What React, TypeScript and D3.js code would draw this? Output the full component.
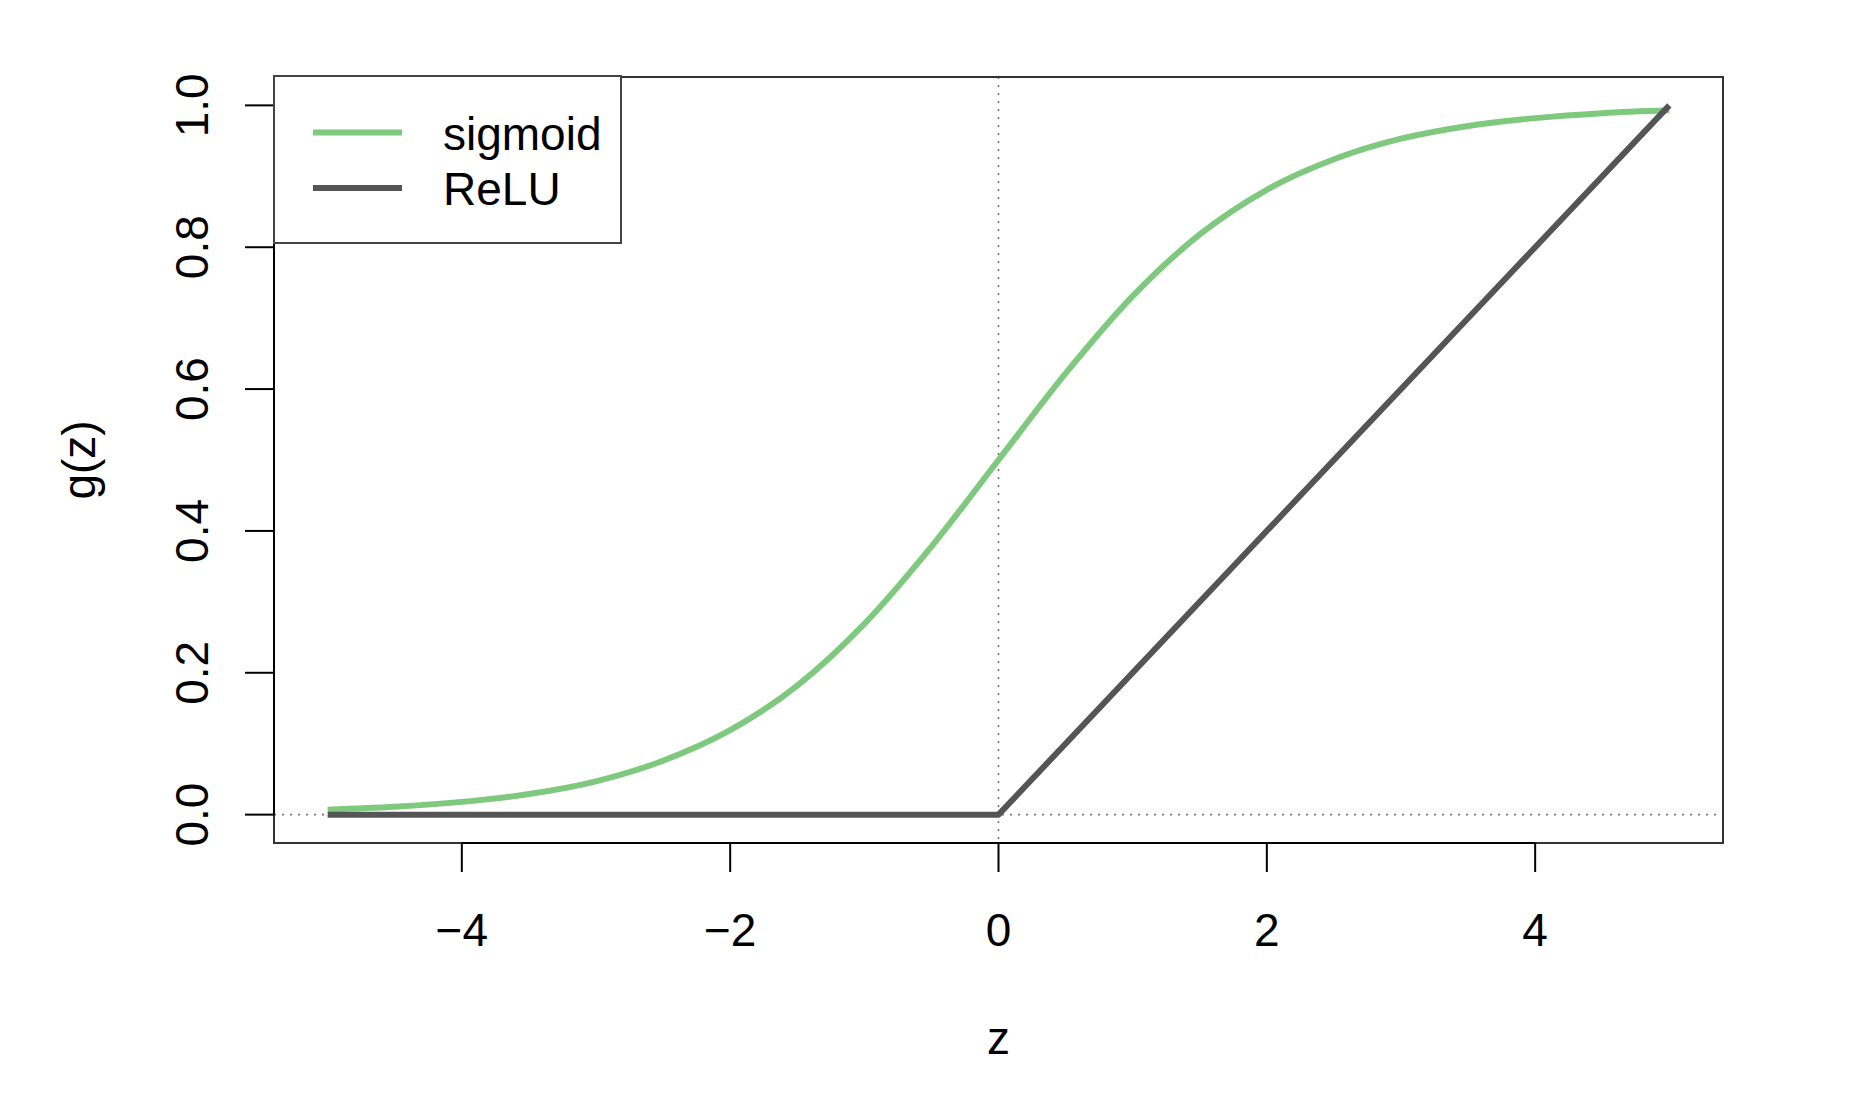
import React from "react";
import * as d3 from "d3";

const zValues = [-5, -4.5, -4, -3.5, -3, -2.5, -2, -1.5, -1, -0.5, 0, 0.5, 1, 1.5, 2, 2.5, 3, 3.5, 4, 4.5, 5];
const sigmoidValues = [0.007, 0.011, 0.018, 0.029, 0.047, 0.076, 0.119, 0.182, 0.269, 0.378, 0.5, 0.622, 0.731, 0.818, 0.881, 0.924, 0.953, 0.971, 0.982, 0.989, 0.993];
const reluZ = [-5, 0, 5];
const reluValues = [0, 0, 1];
const xTicks = [-4, -2, 0, 2, 4];
const yTicks = [0, 0.2, 0.4, 0.6, 0.8, 1.0];
const legendLabels = ["sigmoid", "ReLU"];
const seriesColors = ["#7fc97f", "#555555"];

const W = 1868;
const H = 1104;
const left = 274;
const right = 1723;
const top = 77;
const bottom = 843;
const FONT = "'Liberation Sans', Arial, Helvetica, sans-serif";
const FS = 46;

const fmtX = (v: number) => (v < 0 ? "\u2212" + Math.abs(v) : String(v));

export default function App() {
  const x = d3.scaleLinear().domain([-5.4, 5.4]).range([left, right]);
  const y = d3.scaleLinear().domain([-0.04, 1.04]).range([bottom, top]);

  const sigPts: [number, number][] = zValues.map((z, i) => [z, sigmoidValues[i]]);
  const reluPts: [number, number][] = reluZ.map((z, i) => [z, reluValues[i]]);

  const smooth = d3
    .line<[number, number]>()
    .x((d) => x(d[0]))
    .y((d) => y(d[1]))
    .curve(d3.curveMonotoneX);
  const straight = d3
    .line<[number, number]>()
    .x((d) => x(d[0]))
    .y((d) => y(d[1]));

  const legendRows = [132.5, 188];

  return (
    <svg width={W} height={H} style={{ position: "absolute", left: 0, top: 0, background: "#fff" }} fontFamily={FONT}>
      <rect x={0} y={0} width={W} height={H} fill="#fff" />
      {/* reference lines */}
      <line x1={x(0)} x2={x(0)} y1={top} y2={bottom} stroke="#777" strokeWidth={1.6} strokeDasharray="2 6" />
      <line x1={left} x2={right} y1={y(0)} y2={y(0)} stroke="#777" strokeWidth={1.6} strokeDasharray="2 6" />

      {/* series */}
      <path d={smooth(sigPts) || ""} fill="none" stroke={seriesColors[0]} strokeWidth={6} strokeLinejoin="round" />
      <path d={straight(reluPts) || ""} fill="none" stroke={seriesColors[1]} strokeWidth={6} strokeLinejoin="round" />

      {/* box */}
      <rect x={left} y={top} width={right - left} height={bottom - top} fill="none" stroke="#333" strokeWidth={2} />

      {/* x axis */}
      <line x1={x(xTicks[0])} x2={x(xTicks[xTicks.length - 1])} y1={bottom} y2={bottom} stroke="#000" strokeWidth={2} />
      {xTicks.map((t) => (
        <g key={"xt" + t}>
          <line x1={x(t)} x2={x(t)} y1={bottom} y2={bottom + 29} stroke="#000" strokeWidth={2} />
          <text x={x(t)} y={946} textAnchor="middle" fontSize={FS} fill="#000">
            {fmtX(t)}
          </text>
        </g>
      ))}

      {/* y axis */}
      <line x1={left} x2={left} y1={y(0)} y2={y(1)} stroke="#000" strokeWidth={2} />
      {yTicks.map((t) => (
        <g key={"yt" + t}>
          <line x1={left - 29} x2={left} y1={y(t)} y2={y(t)} stroke="#000" strokeWidth={2} />
          <text
            transform={`translate(208,${y(t)}) rotate(-90)`}
            textAnchor="middle"
            fontSize={FS}
            fill="#000"
          >
            {t.toFixed(1)}
          </text>
        </g>
      ))}

      {/* axis titles */}
      <text x={(left + right) / 2} y={1054} textAnchor="middle" fontSize={FS} fill="#000">
        z
      </text>
      <text transform={`translate(95,${(top + bottom) / 2}) rotate(-90)`} textAnchor="middle" fontSize={FS} fill="#000">
        g(z)
      </text>

      {/* legend */}
      <rect x={left} y={top - 1} width={621 - left} height={243 - top + 1} fill="#fff" stroke="#444" strokeWidth={2} />
      {legendLabels.map((lab, i) => (
        <g key={lab}>
          <line x1={313} x2={402} y1={legendRows[i]} y2={legendRows[i]} stroke={seriesColors[i]} strokeWidth={6} />
          <text x={443} y={legendRows[i] + 17} fontSize={FS} fill="#000">
            {lab}
          </text>
        </g>
      ))}
    </svg>
  );
}
